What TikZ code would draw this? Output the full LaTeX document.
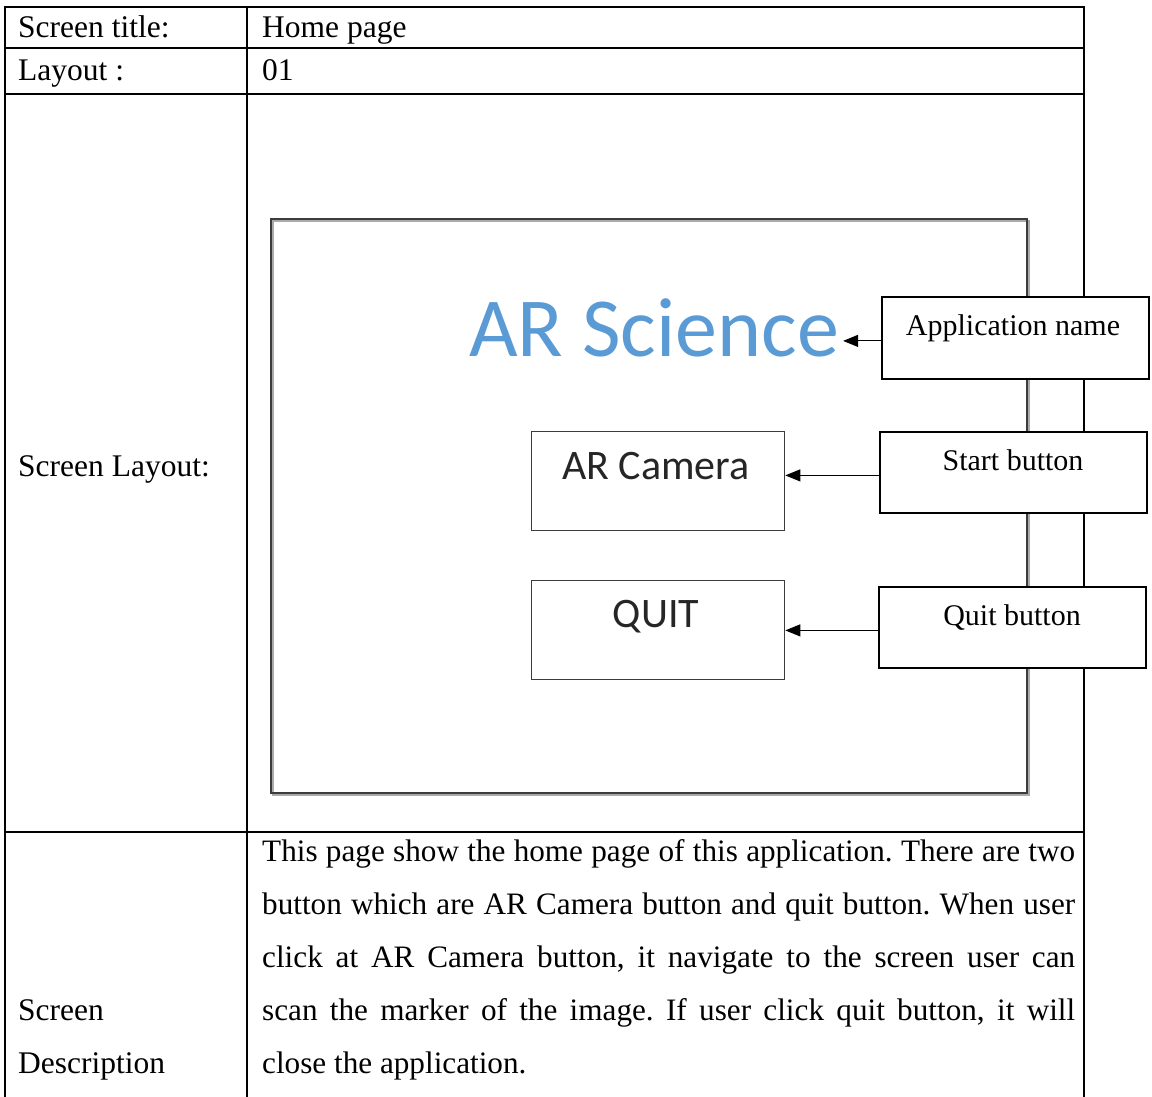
\documentclass[tikz,border=0pt]{standalone}
\usepackage{fontspec}
\setmainfont{Liberation Serif}
\newfontfamily\calibri{Carlito}
\usetikzlibrary{arrows.meta}
\definecolor{sciblue}{RGB}{91,155,213}
\definecolor{framegray}{RGB}{60,60,60}
\definecolor{shadowgray}{RGB}{170,170,170}
\frenchspacing

\begin{document}
\begin{tikzpicture}[x=1pt,y=-1pt,
  rule/.style={line width=2pt, black},
  celltext/.style={anchor=base west, inner sep=0pt, font=\fontsize{31.5}{34}\selectfont},
  uibox/.style={draw=framegray, line width=1.3pt, fill=white, anchor=north west,
    inner sep=0pt, minimum width=253pt, minimum height=99pt},
  uitext/.style={anchor=base, inner sep=0pt, font=\calibri\fontsize{42}{46}\selectfont, text=black!85},
  callout/.style={draw, line width=1.8pt, fill=white, anchor=north west,
    inner sep=0pt, minimum width=267pt, minimum height=81pt},
  callouttext/.style={anchor=base, inner sep=0pt, font=\fontsize{30}{33}\selectfont},
  pointer/.style={line width=1pt, -{Triangle[length=15pt,width=12pt]}},
  desc/.style={anchor=base west, inner sep=0pt, font=\fontsize{31.2}{34}\selectfont}
]
\useasboundingbox[fill=white] (0,0) rectangle (1152,1097);

% table grid
\draw[rule] (5,1100) -- (5,7) -- (1084,7) -- (1084,1100);
\draw[rule] (247,7) -- (247,1100);
\draw[rule] (5,48) -- (1084,48);
\draw[rule] (5,94) -- (1084,94);
\draw[rule] (5,832) -- (1084,832);

% cell labels
\node[celltext] (t1) at (18,38) {Screen title:};
\node[celltext] (v1) at (262,38) {Home page};
\node[celltext] (t2) at (18,81) {Layout :};
\node[celltext] (v2) at (262,81) {01};
\node[celltext] (t3) at (18,476) {Screen Layout:};
\node[celltext] (t4a) at (18,1020) {Screen};
\node[celltext] (t4b) at (18,1073) {Description};

% screen mock-up frame with soft shadow
\draw[shadowgray, line width=1.5pt] (273,221) rectangle (1029,795);
\draw[framegray, line width=1.5pt] (271,219) rectangle (1027,793);

% title of the app
\node[anchor=base, inner sep=0pt, font=\calibri\fontsize{84}{92}\selectfont, text=sciblue] (sci) at (654,356) {AR Science};

% buttons
\node[uibox] (cam) at (531,431) {};
\node[uitext] (camtxt) at (656,479) {AR Camera};
\node[uibox] (quit) at (531,580) {};
\node[uitext] (quittxt) at (656,627) {QUIT};

% callout boxes
\node[callout, minimum height=82pt] (app) at (881,296) {};
\node[callouttext] (apptxt) at (1013,335) {Application name};
\node[callout] (start) at (879,431) {};
\node[callouttext] (starttxt) at (1013,470) {Start button};
\node[callout] (qbtn) at (878,586) {};
\node[callouttext] (qbtntxt) at (1012,625) {Quit button};

% pointers
\draw[pointer] ([yshift=-3pt]app.west) -- ([yshift=-3pt, xshift=4pt]app.west -| sci.east);
\draw[pointer] ([yshift=-3pt]start.west) -- ([yshift=-3pt]start.west -| cam.east);
\draw[pointer] ([yshift=-3pt]qbtn.west) -- ([yshift=-3pt]qbtn.west -| quit.east);

% description
\node[desc] (d1) at (262,861) {\makebox[813pt][s]{This page show the home page of this application. There are two}};
\node[desc] (d2) at (262,914) {\makebox[813pt][s]{button which are AR Camera button and quit button. When user}};
\node[desc] (d3) at (262,967) {\makebox[813pt][s]{click at AR Camera button, it navigate to the screen user can}};
\node[desc] (d4) at (262,1020) {\makebox[813pt][s]{scan the marker of the image. If user click quit button, it will}};
\node[desc] (d5) at (262,1073) {close the application.};
\end{tikzpicture}
\end{document}
